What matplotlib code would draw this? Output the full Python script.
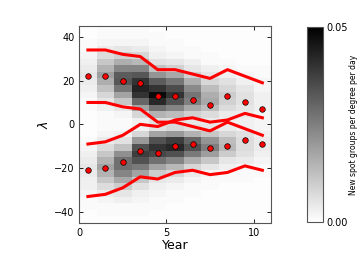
import numpy as np
import matplotlib
matplotlib.use('Agg')
import matplotlib.pyplot as plt

# year bins and latitude bins (3 degrees)
year_edges = np.arange(0, 12)
lat_edges = np.arange(-45, 46, 3)

# emergence rate, units of 1e-3 spot groups / degree / day
# rows = latitude bins from -43.5 (bottom) to 43.5 (top), cols = years 0..10
rate = [
    [0.5, 0.5, 0.5, 0.5, 0.5, 0.5, 0.5, 0.5, 0.5, 0.5, 0.5],
    [0.5, 1, 1, 1, 0.5, 0.5, 0.5, 0.5, 0.5, 0.5, 0.5],
    [1, 1, 1, 1, 1, 0.5, 0.5, 0.5, 0.5, 0.5, 0.5],
    [1, 2, 3, 2, 1, 1, 0.5, 0.5, 0.5, 0.5, 0.5],
    [2, 4, 5, 3, 2, 1, 1, 0.5, 0.5, 0.5, 0.5],
    [3, 7, 10, 6, 3, 2, 1, 1, 0.5, 0.5, 0.5],
    [3, 11, 17, 11, 5, 4, 2, 1, 1, 1, 0.5],
    [4, 15, 24, 18, 10, 8, 4, 2, 1, 1, 1],
    [5, 18, 28, 26, 18, 14, 8, 5, 3, 2, 1],
    [4, 15, 28, 34, 28, 24, 16, 11, 5, 4, 2],
    [3, 11, 22, 38, 36, 34, 26, 19, 10, 6, 3],
    [2, 7, 12, 34, 40, 42, 34, 25, 14, 7, 4],
    [1, 4, 6, 20, 34, 38, 30, 21, 13, 7, 4],
    [0.5, 2, 3, 8, 18, 20, 15, 11, 8, 6, 3],
    [0.5, 1, 1, 3, 6, 8, 6, 5, 4, 3, 2],
    [0.5, 1, 1, 3, 6, 6, 5, 4, 3, 3, 2],
    [0.5, 1, 2, 8, 15, 13, 9, 7, 4, 4, 2],
    [1, 3, 5, 18, 28, 24, 17, 13, 7, 5, 3],
    [1, 5, 11, 30, 42, 34, 25, 17, 9, 6, 3],
    [2, 8, 18, 40, 48, 40, 27, 16, 10, 6, 3],
    [3, 12, 27, 43, 40, 35, 23, 13, 8, 5, 2],
    [4, 16, 33, 40, 32, 27, 16, 8, 6, 3, 2],
    [5, 19, 32, 33, 21, 17, 9, 5, 3, 2, 1],
    [4, 15, 24, 24, 12, 9, 5, 3, 2, 1, 1],
    [3, 11, 16, 14, 6, 5, 3, 1, 1, 0.5, 0.5],
    [2, 7, 9, 8, 3, 2, 1, 1, 0.5, 0.5, 0.5],
    [1, 4, 5, 4, 2, 1, 1, 0.5, 0.5, 0.5, 0.5],
    [1, 2, 2, 2, 1, 1, 0.5, 0.5, 0.5, 0.5, 0.5],
    [0.5, 1, 1, 1, 1, 0.5, 0.5, 0.5, 0.5, 0.5, 0.5],
    [0.5, 1, 1, 1, 0.5, 0.5, 0.5, 0.5, 0.5, 0.5, 0.5],
]

years = [0.5, 1.5, 2.5, 3.5, 4.5, 5.5, 6.5, 7.5, 8.5, 9.5, 10.5]
north_top = [34, 34, 32, 31, 25, 25, 23, 21, 25, 22, 19]
north_bot = [10, 10, 8, 7, 1, 1, -1, -3, 1, -2, -5]
north_mean = [22, 22, 20, 19, 13, 13, 11, 9, 13, 10, 7]
south_top = [-9, -8, -5, 0, -1, 2, 3, 1, 2, 5, 3]
south_bot = [-33, -32, -29, -24, -25, -22, -21, -23, -22, -19, -21]
south_mean = [-21, -20, -17, -12, -13, -10, -9, -11, -10, -7, -9]

plt.rcParams['axes.edgecolor'] = '#555555'
plt.rcParams['xtick.direction'] = 'in'
plt.rcParams['ytick.direction'] = 'in'

fig = plt.figure(figsize=(3.6, 2.7), dpi=100)
ax = fig.add_axes([0.22, 0.175, 0.533, 0.729])
cax = fig.add_axes([0.852, 0.177, 0.046, 0.724])

Z = np.array(rate) * 1e-3
mesh = ax.pcolormesh(year_edges, lat_edges, Z, cmap='gray_r', vmin=0, vmax=0.05)

for line in [north_top, north_bot, south_top, south_bot]:
    ax.plot(years, line, color='red', lw=2.2)
ax.plot(years, north_mean, 'o', mfc='red', mec='black', mew=0.5, ms=4)
ax.plot(years, south_mean, 'o', mfc='red', mec='black', mew=0.5, ms=4)

ax.set_xlim(0, 11)
ax.set_ylim(-45, 45)
ax.set_xticks([0, 5, 10])
ax.set_yticks([-40, -20, 0, 20, 40])
ax.tick_params(labelsize=7, top=True, right=True, length=3, width=0.6)
ax.set_xlabel('Year', fontsize=9, labelpad=1)
ax.set_ylabel(r'$\lambda$', fontsize=9, labelpad=2)

cb = fig.colorbar(mesh, cax=cax, ticks=[0, 0.05])
cb.ax.set_yticklabels(['0.00', '0.05'])
cb.ax.tick_params(labelsize=7, length=0, pad=2)
cb.set_label('New spot groups per degree per day', fontsize=5.5, labelpad=1)
cb.outline.set_edgecolor('#555555')

fig.savefig('out.png', dpi=100)
